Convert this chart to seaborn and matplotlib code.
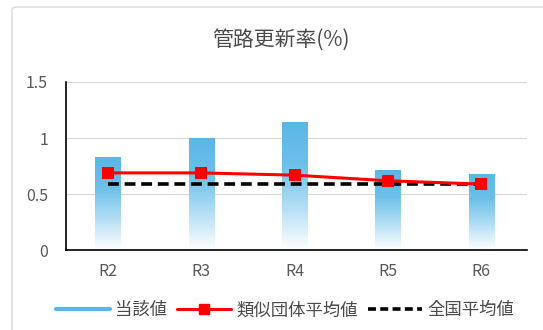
import numpy as np
import pandas as pd
import seaborn as sns
import matplotlib.pyplot as plt
from matplotlib.lines import Line2D
from matplotlib.patches import FancyBboxPatch

# data
years = ['R2', 'R3', 'R4', 'R5', 'R6']
own_values = [0.83, 1.00, 1.14, 0.72, 0.68]
similar_avg = [0.69, 0.69, 0.67, 0.62, 0.59]
national_avg = [0.59, 0.59, 0.59, 0.59, 0.59]

sns.set_theme(style='white')
plt.rcParams['font.family'] = ['Noto Sans CJK JP', 'DejaVu Sans']

df = pd.DataFrame({'year': years, 'own': own_values,
                   'similar': similar_avg, 'national': national_avg})

fig = plt.figure(figsize=(5.43, 3.30), dpi=100)
# light frame around the whole chart (runs off the right and bottom edges)
frame = FancyBboxPatch((12 / 543, -0.05), 1.0, 0.05 + (330 - 7) / 330,
                       boxstyle='round,pad=0,rounding_size=0.01',
                       transform=fig.transFigure, fc='white', ec='#d9d9d9', lw=1.0, zorder=-5)
fig.patches.append(frame)
ax = fig.add_axes([0.1215, 0.241, 0.849, 0.511])
ax.set_facecolor('none')

sns.barplot(data=df, x='year', y='own', color='#5bb6e6', width=0.27, ax=ax, zorder=2)

# gradient fill: solid blue at the top, fading to white at the base
grad = np.linspace(0, 1, 256).reshape(-1, 1)
cmap = sns.blend_palette(['#ffffff', '#b3def4', '#6cc0ea', '#5bb6e6'], as_cmap=True)
for bar in ax.patches:
    x0, y0 = bar.get_x(), bar.get_y()
    w, h = bar.get_width(), bar.get_height()
    bar.set_facecolor('none')
    bar.set_edgecolor('none')
    im = ax.imshow(grad, extent=[x0, x0 + w, y0, y0 + h], origin='lower', cmap=cmap,
                   aspect='auto', zorder=2)
    im.set_clip_path(bar)

sns.lineplot(data=df, x='year', y='national', color='black', lw=2.6, ax=ax, zorder=3,
             linestyle=(0, (3, 1.6)))
sns.lineplot(data=df, x='year', y='similar', color='#ff0000', lw=2.2, marker='s',
             markersize=9, markeredgewidth=0, ax=ax, zorder=4)

ax.set_xlim(-0.45, 4.49)
ax.set_ylim(0, 1.5)
ax.set_yticks([0, 0.5, 1, 1.5])
ax.set_yticklabels(['0', '0.5', '1', '1.5'])
ax.yaxis.grid(True, color='#d9d9d9', lw=0.8)
ax.set_axisbelow(True)
ax.set_xlabel('')
ax.set_ylabel('')
for s in ['top', 'right']:
    ax.spines[s].set_visible(False)
for s in ['left', 'bottom']:
    ax.spines[s].set_color('black')
    ax.spines[s].set_linewidth(1.2)
ax.tick_params(axis='x', length=0, labelsize=11.5, labelcolor='#595959', pad=9)
ax.tick_params(axis='y', length=0, labelsize=11.5, labelcolor='#595959', pad=13)

fig.text(0.518, (330 - 40) / 330, '管路更新率(%)', fontsize=15, color='#4a4a4a',
         ha='center', va='center')

handles = [Line2D([], [], color='#5bb6e6', lw=3),
           Line2D([], [], color='#ff0000', lw=2.2, marker='s', markersize=7.5),
           Line2D([], [], color='black', lw=2.6, linestyle=(0, (2.2, 1.2)))]
fig.legend(handles, ['当該値', '類似団体平均値', '全国平均値'], loc='center',
           bbox_to_anchor=(0.525, 0.06), ncol=3, frameon=False, fontsize=12.5,
           handlelength=3.1, handletextpad=0.3, columnspacing=0.6, labelcolor='#4a4a4a')

fig.savefig('out.png', dpi=100)
